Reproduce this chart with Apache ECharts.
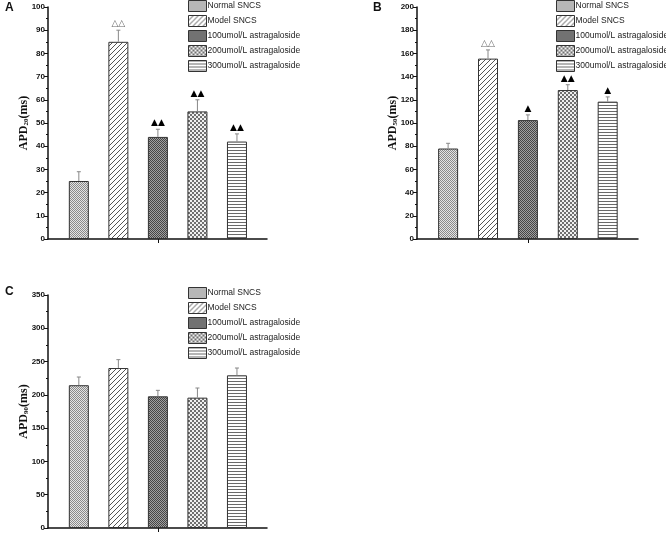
<!DOCTYPE html>
<html><head><meta charset="utf-8">
<script src="https://cdn.jsdelivr.net/npm/echarts@6/dist/echarts.min.js"></script>
<style>html,body{margin:0;padding:0;background:#fff}#c{width:666px;height:535px}</style>
</head><body><div id="c"></div>
<script>
// ---- data ----
const groups = ['Normal SNCS','Model SNCS','100umol/L astragaloside','200umol/L astragaloside','300umol/L astragaloside'];
const positions = [1,2,3,4,5];
const apd20 = [25, 85, 44, 55, 42];
const apd20Upper = [29, 90, 47.3, 60, 45.3];
const apd20Marks = ['', '△△', '▲▲', '▲▲', '▲▲'];
const apd50 = [78, 155.5, 102.5, 128.4, 118.4];
const apd50Upper = [82.5, 163, 107, 133, 122.5];
const apd50Marks = ['', '△△', '▲', '▲▲', '▲'];
const apd90 = [214.5, 240.3, 197.8, 195.8, 229.3];
const apd90Upper = [226.8, 252.9, 206.8, 210.3, 240.3];
const apd90Marks = ['', '', '', '', ''];
const yMax = [100, 200, 350];
const yStep = [10, 20, 50];
const yNames = ['20', '50', '90'];

// ---- patterns ----
function pat(w, h, fn) {
  const c = document.createElement('canvas'); c.width = w; c.height = h;
  const g = c.getContext('2d');
  for (let y = 0; y < h; y++) for (let x = 0; x < w; x++) { g.fillStyle = fn(x, y); g.fillRect(x, y, 1, 1); }
  return { image: c, repeat: 'repeat' };
}
const patterns = [
  pat(2, 2, (x, y) => ((x + y) % 2 === 0 ? '#8a8a8a' : '#e4e4e4')),
  pat(5, 5, (x, y) => ((x + y) % 5 === 4 ? '#555' : '#fff')),
  pat(2, 2, (x, y) => ((x + y) % 2 === 0 ? '#454545' : '#a0a0a0')),
  pat(4, 4, (x, y) => (((x >> 1) + (y >> 1)) % 2 === 0 ? '#707070' : '#f0f0f0')),
  pat(1, 3, (x, y) => (y === 0 ? '#6a6a6a' : '#fff'))
];

const grids = [
  { left: 48, top: 7, width: 219, height: 232 },
  { left: 417, top: 7, width: 221, height: 232 },
  { left: 48, top: 295, width: 219, height: 233 }
];
const legendPos = [{ left: 188, top: 0 }, { left: 556, top: 0 }, { left: 188, top: 287 }];
const values = [apd20, apd50, apd90];
const uppers = [apd20Upper, apd50Upper, apd90Upper];
const marks = [apd20Marks, apd50Marks, apd90Marks];

const narrow = "sans-serif";

const xAxis = [], yAxis = [], series = [], legend = [], graphic = [];
for (let p = 0; p < 3; p++) {
  xAxis.push({
    type: 'value', gridIndex: p, min: 0.22, max: 5.76,
    axisLine: { show: true, onZero: false, lineStyle: { color: '#111', width: 1.5 } },
    axisTick: { show: true, customValues: [3], length: 4, lineStyle: { color: '#111' } },
    axisLabel: { show: false }, splitLine: { show: false }
  });
  yAxis.push({
    type: 'value', gridIndex: p, min: 0, max: yMax[p], interval: yStep[p],
    name: '{a|APD}{s|' + yNames[p] + '}{a|(ms)}',
    nameLocation: 'middle', nameGap: 18, nameRotate: 90, nameMoveOverlap: false,
    nameTextStyle: { rich: {
      a: { fontFamily: "'Liberation Serif','Times New Roman',serif", fontWeight: 'bold', fontSize: 12, color: '#111' },
      s: { fontFamily: "'Liberation Serif','Times New Roman',serif", fontWeight: 'bold', fontSize: 7, color: '#111', verticalAlign: 'bottom', padding: [6, 0, 0, 0] }
    } },
    axisLine: { show: true, lineStyle: { color: '#111', width: 1.5 } },
    axisTick: { show: true, length: 4, lineStyle: { color: '#111' } },
    minorTick: { show: true, splitNumber: 2, length: 2, lineStyle: { color: '#111' } },
    axisLabel: { fontSize: 8, fontWeight: 'bold', color: '#111', fontFamily: narrow, margin: 3 },
    splitLine: { show: false }
  });
  groups.forEach((name, i) => {
    series.push({
      type: 'bar', name, xAxisIndex: p, yAxisIndex: p,
      barWidth: 20, barGap: '-100%',
      data: [[positions[i], values[p][i]]],
      itemStyle: { color: patterns[i], borderColor: '#333', borderWidth: 1 },
      emphasis: { disabled: true }
    });
  });
  const mk = marks[p];
  series.push({
    type: 'custom', xAxisIndex: p, yAxisIndex: p, z: 5, clip: false, silent: true,
    data: positions.map((x, i) => [x, values[p][i], uppers[p][i]]),
    renderItem: (params, api) => {
      const a = api.coord([api.value(0), api.value(1)]);
      const b = api.coord([api.value(0), api.value(2)]);
      const children = [
        { type: 'line', shape: { x1: a[0], y1: a[1], x2: b[0], y2: b[1] }, style: { stroke: '#888', lineWidth: 1 } },
        { type: 'line', shape: { x1: b[0] - 2, y1: b[1], x2: b[0] + 2, y2: b[1] }, style: { stroke: '#888', lineWidth: 1 } }
      ];
      const m = mk[params.dataIndex];
      if (m) {
        children.push({ type: 'text', x: b[0], y: b[1] - 2, style: {
          text: m, fill: m.indexOf('△') >= 0 ? '#666' : '#000', fontSize: 9,
          fontFamily: "'DejaVu Sans',sans-serif", align: 'center', verticalAlign: 'bottom' } });
      }
      return { type: 'group', children };
    }
  });
  legend.push({
    data: groups, orient: 'vertical', left: legendPos[p].left, top: legendPos[p].top,
    padding: 0,
    itemWidth: 18, itemHeight: 11, itemGap: 3, icon: 'rect', selectedMode: false,
    textStyle: { fontSize: 8.5, color: '#222', fontFamily: narrow, padding: [0, 0, 0, -4] },
    itemStyle: { borderColor: '#333', borderWidth: 1 }
  });
}
graphic.push({ type: 'text', left: 5, top: 2, style: { text: 'A', font: 'bold 12px Arial, sans-serif', fill: '#111' } });
graphic.push({ type: 'text', left: 373, top: 2, style: { text: 'B', font: 'bold 12px Arial, sans-serif', fill: '#111' } });
graphic.push({ type: 'text', left: 5, top: 286, style: { text: 'C', font: 'bold 12px Arial, sans-serif', fill: '#111' } });

const chart = echarts.init(document.getElementById('c'), null, { renderer: 'canvas' });
chart.setOption({
  animation: false, backgroundColor: '#fff',
  grid: grids, xAxis, yAxis, series, legend, graphic
});
</script></body></html>
